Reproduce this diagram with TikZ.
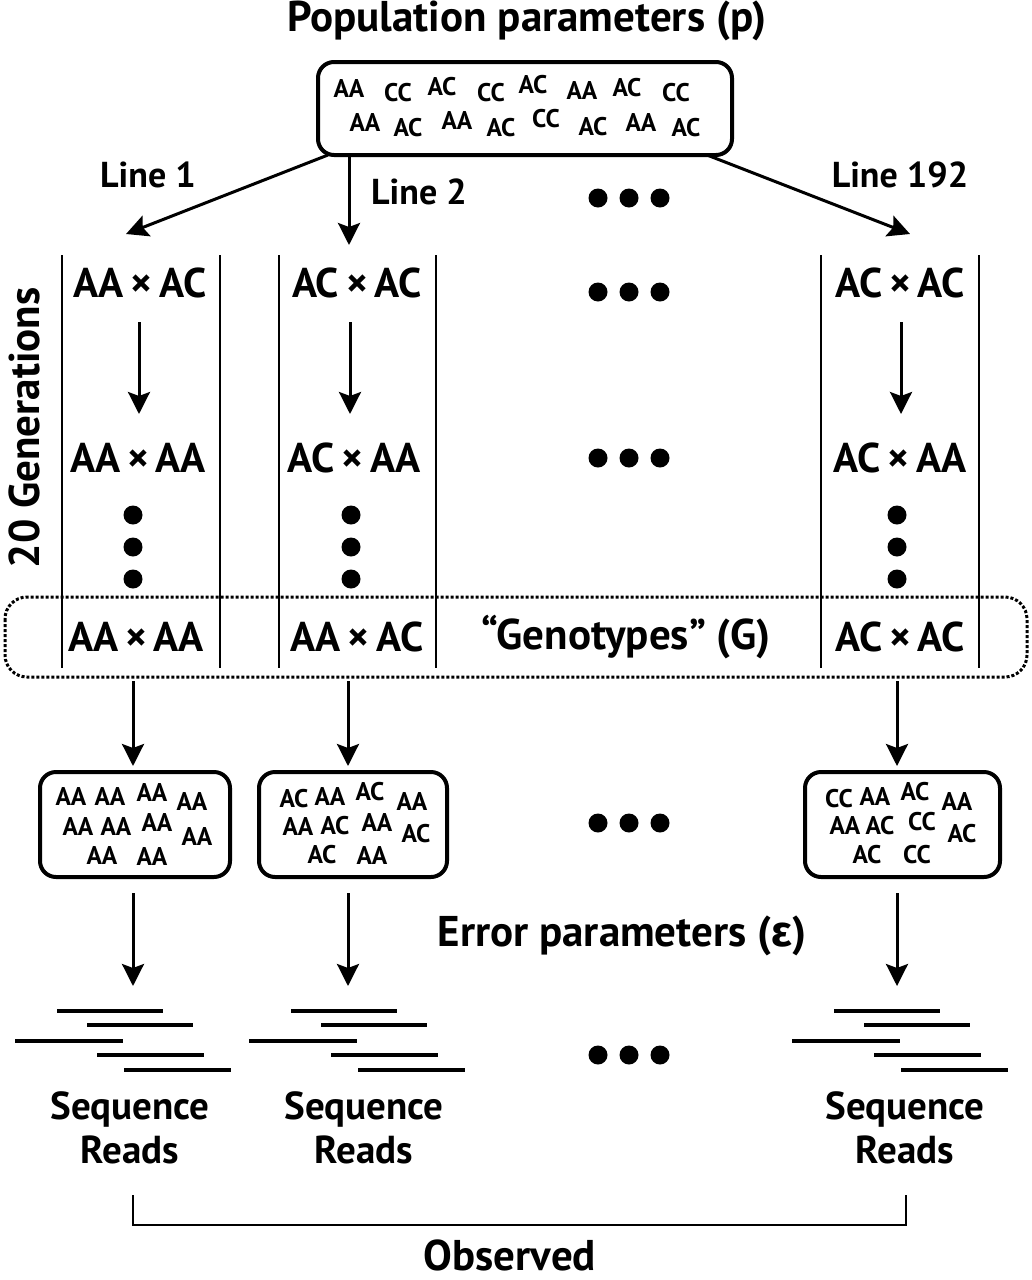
\documentclass[tikz,border=0pt]{standalone}
\usepackage{fontspec}
\setmainfont{PT Sans}
\newfontfamily\grk{Fira Sans}
\usetikzlibrary{arrows.meta}
\begin{document}
\begin{tikzpicture}[x=1pt,y=-1pt,
  big/.style={font=\fontsize{41.5}{46}\bfseries, inner sep=0pt},
  ttl/.style={font=\fontsize{43}{46}\bfseries, inner sep=0pt},
  mid/.style={font=\fontsize{36}{40}\bfseries, inner sep=0pt},
  seq/.style={font=\fontsize{39}{44}\bfseries, inner sep=0pt, align=center},
  gt/.style={font=\fontsize{25.5}{28}\bfseries, inner sep=0pt},
  arr/.style={line width=3pt, -{Stealth[length=22pt,width=22pt,inset=4pt]}},
  bigdot/.style={circle, fill=black, minimum size=19pt, inner sep=0pt},
  rbox/.style={draw, line width=4pt, rounded corners=16pt, inner sep=0pt},
  colline/.style={line width=2pt},
  read/.style={line width=3.5pt},
]
\useasboundingbox (0,0) rectangle (1031,1280);

% title and top box
\node[ttl] (title) at (527,21) {Population parameters (p)};
\node[rbox, minimum width=414pt, minimum height=93pt] (pop) at (525,108.5) {};
\foreach \x/\y/\t [count=\i] in {349/89/AA,398/93/CC,442/87/AC,491/93/CC,533/85/AC,582/91/AA,627/88/AC,676/93/CC,
  365/123/AA,408/128/AC,457/121/AA,501/128/AC,546/119/CC,593/127/AC,641/123/AA,686/128/AC}
  \node[gt] (p\i) at (\x,\y) {\t};

% line arrows
\coordinate (l1s) at (328,155); \coordinate (l1e) at (126,234);
\coordinate (l2s) at (349,155); \coordinate (l2e) at (349,245);
\coordinate (l3s) at (707,155); \coordinate (l3e) at (910,234);
\draw[arr] (l1s) -- (l1e);
\draw[arr] (l2s) -- (l2e);
\draw[arr] (l3s) -- (l3e);
\node[mid] (line1) at (148,175) {Line 1};
\node[mid] (line2) at (419,192) {Line 2};
\node[mid] (line3) at (900,175) {Line 192};

% horizontal ellipses of dots
\foreach \y [count=\j] in {198,292,458,823,1055}{
  \foreach \x [count=\k] in {598,629,660}
    \node[bigdot] (h\j\k) at (\x,\y) {};
}

% column lines
\foreach \x [count=\i] in {62,220,279,436,821,979}
  \draw[colline] (\x,255) coordinate (ct\i) -- (\x,668) coordinate (cb\i);

% generation rows
\node[big] (a1) at (140,283) {AA\,×\,AC};
\node[big] (a2) at (357,283) {AC\,×\,AC};
\node[big] (a3) at (900,283) {AC\,×\,AC};
\node[big] (b1) at (138,458) {AA\,×\,AA};
\node[big] (b2) at (354,458) {AC\,×\,AA};
\node[big] (b3) at (900,458) {AC\,×\,AA};
\node[big] (c1) at (136,637) {AA\,×\,AA};
\node[big] (c2) at (357,637) {AA\,×\,AC};
\node[big] (c3) at (900,637) {AC\,×\,AC};
\node[ttl] (geno) at (626,637) {“Genotypes” (G)};

\foreach \x [count=\i] in {139,350,901}{
  \coordinate (gs\i) at (\x,322); \coordinate (ge\i) at (\x,414);
  \draw[arr] (gs\i) -- (ge\i);
}
\foreach \x [count=\i] in {133,351,897}
  \foreach \y [count=\k] in {515,547,579}
    \node[bigdot] (v\i\k) at (\x,\y) {};

\node[ttl, rotate=90] (gen) at (24,428) {20 Generations};

% dotted genotype box
\draw[line width=3pt, dash pattern=on 3pt off 2pt, rounded corners=22pt] (5,597) rectangle (1027,677);

% arrows to sample boxes
\foreach \x [count=\i] in {133,348,897}{
  \coordinate (ss\i) at (\x,681); \coordinate (se\i) at (\x,766);
  \draw[arr] (ss\i) -- (se\i);
  \coordinate (ts\i) at (\x,893); \coordinate (te\i) at (\x,986);
  \draw[arr] (ts\i) -- (te\i);
}

% sample boxes
\node[rbox, minimum width=190pt, minimum height=105pt] (s1) at (135,824.5) {};
\node[rbox, minimum width=188pt, minimum height=105pt] (s2) at (353,824.5) {};
\node[rbox, minimum width=195pt, minimum height=105pt] (s3) at (902.5,824.5) {};

\foreach \x/\y/\t [count=\i] in {71/797/AA,110/796/AA,152/792/AA,192/802/AA,78/826/AA,116/827/AA,157/823/AA,197/836/AA,102/855/AA,152/856/AA}
  \node[gt] (sa\i) at (\x,\y) {\t};
\foreach \x/\y/\t [count=\i] in {294/799/AC,330/797/AA,370/792/AC,412/802/AA,298/826/AA,335/826/AC,377/822/AA,416/834/AC,322/855/AC,372/855/AA}
  \node[gt] (sb\i) at (\x,\y) {\t};
\foreach \x/\y/\t [count=\i] in {839/799/CC,875/797/AA,915/792/AC,957/802/AA,845/825/AA,880/826/AC,922/822/CC,962/834/AC,867/855/AC,917/855/CC}
  \node[gt] (sc\i) at (\x,\y) {\t};

\node[ttl] (err) at (622,936) {Error parameters ({\grk ε})};

% sequence reads
\foreach \o in {0,234,777}{
  \draw[read] (57+\o,1011) -- (163+\o,1011);
  \draw[read] (87+\o,1025) -- (193+\o,1025);
  \draw[read] (15+\o,1041) -- (123+\o,1041);
  \draw[read] (97+\o,1055) -- (204+\o,1055);
  \draw[read] (124+\o,1070) -- (231+\o,1070);
}
\node[seq] (r1) at (130,1128) {Sequence\\Reads};
\node[seq] (r2) at (364,1128) {Sequence\\Reads};
\node[seq] (r3) at (905,1128) {Sequence\\Reads};

% bracket
\coordinate (k1) at (133,1195);
\coordinate (k2) at (906,1195);
\draw[line width=2pt] (k1) -- (133,1225) -- (906,1225) -- (k2);
\node[ttl, anchor=base] (obs) at (510,1270) {Observed};
\end{tikzpicture}
\end{document}
